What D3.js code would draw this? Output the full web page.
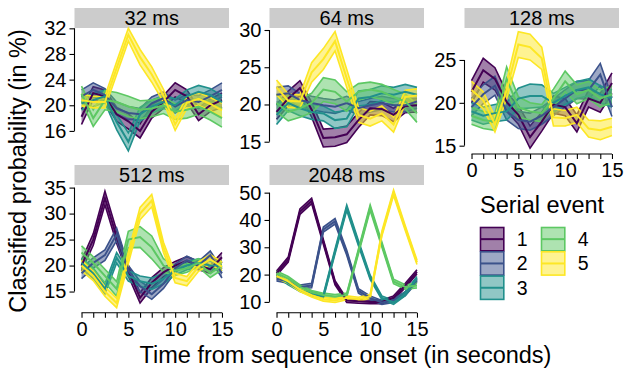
<!DOCTYPE html>
<html>
<head>
<meta charset="utf-8">
<script src="https://cdn.jsdelivr.net/npm/d3@7"></script>
<style>
  body { margin: 0; background: #fff; }
  text { font-family: "Liberation Sans", Arial, sans-serif; fill: #000; }
</style>
</head>
<body>
<svg id="chart" width="631" height="372"></svg>
<script>
// time points (seconds from sequence onset)
const times = [0, 1.25, 2.5, 3.75, 5, 6.25, 7.5, 8.75, 10, 11.25, 12.5, 13.75, 15];
const events = ['1', '2', '3', '4', '5'];
const colors = ['#440154', '#3B528B', '#21908C', '#5DC863', '#FDE725'];

// mean classified probability (in %) per serial event, one list per speed
const mean32 = [
  [18.2, 21.9, 21.4, 18.6, 17.5, 16.0, 19.0, 20.5, 22.4, 21.4, 18.6, 20.0, 20.8],
  [21.4, 22.4, 21.6, 19.5, 18.8, 18.6, 20.3, 21.1, 19.8, 20.8, 20.5, 21.4, 22.4],
  [20.3, 20.8, 21.4, 17.4, 14.3, 18.6, 19.8, 20.5, 20.0, 21.4, 22.1, 21.6, 20.5],
  [21.8, 18.0, 20.8, 20.5, 19.8, 19.3, 19.5, 20.0, 19.0, 19.3, 19.8, 19.0, 18.0],
  [20.8, 20.5, 20.5, 25.8, 31.0, 27.5, 24.8, 21.5, 17.0, 20.4, 21.0, 20.2, 19.2]
];
const se32 = [
  [1.2, 1.0, 1.0, 1.1, 1.2, 1.1, 1.0, 1.0, 1.1, 1.0, 1.0, 1.0, 1.1],
  [1.0, 1.1, 1.0, 1.0, 1.0, 0.9, 1.0, 1.0, 1.0, 0.9, 1.0, 1.0, 1.1],
  [1.0, 1.0, 1.0, 1.2, 1.4, 1.1, 1.0, 1.0, 1.0, 1.0, 1.0, 1.0, 1.0],
  [1.2, 1.3, 1.5, 1.5, 1.6, 1.4, 1.3, 1.3, 1.2, 1.3, 1.2, 1.3, 1.4],
  [0.9, 0.9, 0.9, 1.0, 1.0, 1.2, 1.2, 1.0, 0.9, 0.9, 1.0, 1.0, 1.1]
];

const mean64 = [
  [19.0, 20.8, 22.2, 19.3, 15.5, 15.6, 16.0, 17.9, 19.5, 19.4, 18.6, 19.8, 19.9],
  [21.3, 21.5, 20.6, 20.2, 19.9, 19.7, 20.2, 19.5, 19.9, 20.2, 19.9, 19.9, 20.4],
  [18.6, 20.2, 19.5, 19.0, 18.8, 17.9, 18.1, 20.8, 21.0, 21.5, 21.3, 21.7, 21.3],
  [20.2, 19.0, 19.5, 20.2, 22.0, 21.7, 20.4, 21.7, 22.0, 21.7, 21.0, 20.4, 18.8],
  [22.3, 20.5, 20.4, 24.3, 26.1, 28.5, 23.5, 18.6, 18.1, 18.8, 17.3, 21.0, 21.2]
];
const se64 = [
  [1.0, 1.0, 1.0, 1.0, 1.2, 1.2, 1.1, 1.0, 0.9, 0.9, 0.9, 0.9, 0.9],
  [1.0, 1.0, 0.9, 0.9, 0.9, 0.9, 0.9, 0.9, 0.9, 0.9, 0.9, 0.9, 0.9],
  [1.3, 1.0, 1.0, 1.0, 1.0, 1.1, 1.1, 1.0, 1.0, 1.0, 1.0, 1.0, 1.0],
  [1.2, 1.2, 1.2, 1.3, 1.6, 1.6, 1.3, 1.1, 1.0, 1.0, 1.0, 1.0, 1.2],
  [1.0, 0.9, 0.9, 1.3, 1.4, 1.3, 1.2, 1.0, 1.0, 1.0, 1.0, 0.9, 0.9]
];

const mean128 = [
  [21.3, 23.8, 22.8, 20.1, 18.6, 16.0, 17.8, 19.8, 19.5, 17.6, 20.5, 20.0, 22.3],
  [19.5, 21.0, 22.0, 19.0, 18.0, 17.8, 18.5, 19.5, 20.5, 21.5, 21.5, 23.3, 19.5],
  [19.0, 18.5, 18.8, 19.0, 20.5, 20.8, 20.8, 20.0, 20.8, 21.5, 21.8, 21.0, 20.5],
  [18.5, 18.0, 17.8, 22.8, 19.5, 19.0, 18.8, 20.5, 22.5, 21.0, 21.5, 20.5, 21.0],
  [21.5, 20.3, 17.5, 21.5, 26.8, 26.5, 25.2, 18.3, 18.2, 18.6, 17.0, 16.8, 17.2]
];
const se128 = [
  [1.3, 1.4, 1.3, 1.1, 1.1, 1.3, 1.1, 1.0, 1.0, 1.0, 1.0, 1.1, 1.2],
  [1.0, 1.1, 1.1, 1.0, 1.0, 1.0, 1.0, 1.0, 1.0, 1.0, 1.1, 1.3, 1.1],
  [1.0, 1.0, 1.0, 1.0, 1.2, 1.4, 1.3, 1.1, 1.0, 1.0, 1.0, 1.0, 1.0],
  [1.0, 1.0, 1.0, 1.4, 1.2, 1.0, 1.0, 1.1, 1.2, 1.1, 1.0, 1.0, 1.0],
  [1.0, 1.0, 0.9, 1.0, 1.5, 1.5, 1.3, 1.0, 0.9, 0.9, 1.0, 1.1, 1.0]
];

const mean512 = [
  [20.0, 25.0, 33.0, 25.5, 19.0, 13.8, 16.7, 18.7, 20.0, 20.9, 20.0, 19.3, 21.6],
  [18.5, 20.5, 22.0, 26.0, 19.0, 16.0, 14.5, 16.5, 19.5, 21.0, 20.0, 22.0, 18.5],
  [20.5, 18.5, 15.5, 21.5, 18.0, 17.0, 16.5, 17.5, 19.0, 20.0, 20.5, 20.0, 20.0],
  [22.5, 20.5, 18.0, 15.5, 25.0, 25.5, 23.5, 20.0, 19.0, 19.5, 20.5, 18.5, 20.0],
  [20.0, 18.0, 15.0, 12.8, 21.5, 30.0, 32.5, 23.5, 17.6, 17.0, 19.8, 21.2, 19.8]
];
const se512 = [
  [1.0, 1.1, 1.3, 1.2, 1.0, 1.0, 1.0, 0.9, 0.8, 0.8, 0.8, 0.8, 0.9],
  [1.0, 1.0, 1.0, 1.2, 1.0, 1.0, 1.0, 0.9, 0.8, 0.8, 0.8, 0.8, 0.9],
  [1.0, 1.0, 1.0, 1.0, 1.0, 1.0, 1.1, 1.0, 0.8, 0.8, 0.8, 0.8, 0.8],
  [1.3, 1.2, 1.3, 1.4, 1.6, 2.0, 2.2, 1.3, 0.9, 0.8, 0.8, 0.8, 0.8],
  [1.0, 0.9, 0.9, 0.9, 1.1, 1.2, 1.2, 1.0, 0.9, 0.9, 0.9, 0.9, 0.9]
];

const mean2048 = [
  [20.5, 25.5, 43.0, 47.0, 32.0, 17.0, 10.5, 10.2, 10.0, 10.0, 11.5, 16.0, 21.0],
  [18.5, 17.5, 15.5, 16.0, 36.5, 39.5, 28.0, 14.0, 11.5, 9.8, 10.5, 13.0, 18.0],
  [20.0, 17.0, 14.5, 13.0, 12.0, 28.5, 44.5, 31.5, 19.0, 11.5, 9.8, 13.0, 18.5],
  [20.5, 18.5, 15.5, 13.5, 12.5, 12.0, 12.5, 28.5, 44.5, 31.0, 17.5, 15.5, 16.0],
  [19.5, 17.5, 14.5, 12.5, 11.0, 10.5, 11.5, 11.0, 12.0, 35.0, 50.0, 37.0, 24.5]
];
const se2048 = [
  [0.8, 0.9, 1.0, 1.0, 0.9, 0.8, 0.7, 0.7, 0.7, 0.7, 0.7, 0.8, 0.8],
  [0.8, 0.7, 0.7, 0.8, 0.9, 1.0, 0.9, 0.8, 0.7, 0.7, 0.7, 0.7, 0.8],
  [0.8, 0.7, 0.7, 0.7, 0.7, 0.9, 1.0, 0.9, 0.8, 0.7, 0.7, 0.7, 0.8],
  [0.8, 0.8, 0.7, 0.7, 0.7, 0.7, 0.7, 0.9, 1.0, 0.9, 0.8, 0.8, 0.9],
  [0.8, 0.7, 0.7, 0.7, 0.7, 0.7, 0.7, 0.7, 0.7, 0.9, 1.0, 0.9, 0.8]
];

// visible y range of each panel and its labelled breaks
const limits32 = [12.4, 32.05], ticks32 = [16, 20, 24, 28, 32];
const limits64 = [13.35, 30.27], ticks64 = [15, 20, 25, 30];
const limits128 = [14.03, 28.73], ticks128 = [15, 20, 25];
const limits512 = [10.93, 35.5], ticks512 = [15, 20, 25, 30, 35];
const limits2048 = [6.05, 52.8], ticks2048 = [10, 20, 30, 40, 50];

const config = {
  colLeft: [74.5, 269.5, 464.5],
  panelWidth: 154.5,
  rowTop: [28, 185],
  rowBottom: [154, 312.7],
  stripHeight: 20,
  xDomain: [-0.75, 15.75],
  tickFont: 20
};

const panels = [
  {label: '32 ms', col: 0, row: 0, means: mean32, se: se32, limits: limits32, ticks: ticks32, xAxis: false},
  {label: '64 ms', col: 1, row: 0, means: mean64, se: se64, limits: limits64, ticks: ticks64, xAxis: false},
  {label: '128 ms', col: 2, row: 0, means: mean128, se: se128, limits: limits128, ticks: ticks128, xAxis: true},
  {label: '512 ms', col: 0, row: 1, means: mean512, se: se512, limits: limits512, ticks: ticks512, xAxis: true},
  {label: '2048 ms', col: 1, row: 1, means: mean2048, se: se2048, limits: limits2048, ticks: ticks2048, xAxis: true}
];

const svg = d3.select('#chart');

function drawStrip(p, left, top) {
  svg.append('rect')
    .attr('x', left)
    .attr('y', top - config.stripHeight)
    .attr('width', config.panelWidth)
    .attr('height', config.stripHeight)
    .attr('fill', '#cccccc');
  svg.append('text')
    .attr('x', left + config.panelWidth / 2)
    .attr('y', top - config.stripHeight / 2)
    .attr('dy', '0.36em')
    .attr('text-anchor', 'middle')
    .attr('font-size', 20)
    .text(p.label);
}

function drawSeries(p, x, y) {
  const g = svg.append('g');
  const rows = p.means.map((m, i) => m.map((v, j) => ({t: times[j], mean: v, lo: v - p.se[i][j], hi: v + p.se[i][j]})));
  const area = d3.area().x(d => x(d.t)).y0(d => y(d.lo)).y1(d => y(d.hi));
  const upper = d3.line().x(d => x(d.t)).y(d => y(d.hi));
  const lower = d3.line().x(d => x(d.t)).y(d => y(d.lo));
  const mid = d3.line().x(d => x(d.t)).y(d => y(d.mean));

  rows.forEach((r, i) => {
    g.append('path').attr('d', area(r)).attr('fill', colors[i]).attr('fill-opacity', 0.5);
    g.append('path').attr('d', upper(r)).attr('fill', 'none').attr('stroke', colors[i]).attr('stroke-width', 1.6);
    g.append('path').attr('d', lower(r)).attr('fill', 'none').attr('stroke', colors[i]).attr('stroke-width', 1.6);
  });
  rows.forEach((r, i) => {
    g.append('path').attr('d', mid(r)).attr('fill', 'none').attr('stroke', colors[i])
      .attr('stroke-width', 2).attr('stroke-linejoin', 'miter');
  });
}

function drawYAxis(p, left, y) {
  const axis = svg.append('g').attr('transform', `translate(${left},0)`)
    .call(d3.axisLeft(y).tickValues(p.ticks).tickSize(5).tickPadding(3));
  axis.select('.domain').remove();
  axis.selectAll('line').attr('stroke', '#000').attr('stroke-width', 1.1);
  axis.selectAll('text').attr('font-size', config.tickFont).attr('font-family', null);
  axis.append('line')
    .attr('x1', 0).attr('x2', 0)
    .attr('y1', y(d3.min(p.ticks))).attr('y2', y(d3.max(p.ticks)))
    .attr('stroke', '#000').attr('stroke-width', 1.1);
}

function drawXAxis(bottom, x) {
  const axis = svg.append('g').attr('transform', `translate(0,${bottom})`)
    .call(d3.axisBottom(x).tickValues(times).tickSize(5).tickPadding(4)
      .tickFormat(d => d % 5 === 0 ? d : ''));
  axis.select('.domain').remove();
  axis.selectAll('line').attr('stroke', '#000').attr('stroke-width', 1.1);
  axis.selectAll('text').attr('font-size', config.tickFont).attr('font-family', null);
  axis.append('line')
    .attr('x1', x(0)).attr('x2', x(15))
    .attr('y1', 0).attr('y2', 0)
    .attr('stroke', '#000').attr('stroke-width', 1.1);
}

function drawPanel(p) {
  const left = config.colLeft[p.col];
  const top = config.rowTop[p.row];
  const bottom = config.rowBottom[p.row];
  const x = d3.scaleLinear().domain(config.xDomain).range([left, left + config.panelWidth]);
  const y = d3.scaleLinear().domain(p.limits).range([bottom, top]);
  drawStrip(p, left, top);
  drawSeries(p, x, y);
  drawYAxis(p, left, y);
  if (p.xAxis) drawXAxis(bottom, x);
}

function drawTitles() {
  svg.append('text')
    .attr('x', 345.5).attr('y', 363)
    .attr('text-anchor', 'middle')
    .attr('font-size', 23.5)
    .text('Time from sequence onset (in seconds)');
  svg.append('text')
    .attr('transform', 'translate(26,171) rotate(-90)')
    .attr('text-anchor', 'middle')
    .attr('font-size', 23.5)
    .text('Classified probability (in %)');
}

function drawLegend() {
  const g = svg.append('g');
  g.append('text').attr('x', 480).attr('y', 212.5).attr('font-size', 23.5).text('Serial event');
  const key = 23.3, step = 24.3;
  events.forEach((e, i) => {
    const col = Math.floor(i / 3), row = i % 3;
    const kx = 480.5 + col * 61, ky = 227.5 + row * step;
    g.append('rect')
      .attr('x', kx).attr('y', ky).attr('width', key).attr('height', key)
      .attr('fill', colors[i]).attr('fill-opacity', 0.5)
      .attr('stroke', colors[i]).attr('stroke-width', 1.6);
    g.append('line')
      .attr('x1', kx).attr('x2', kx + key)
      .attr('y1', ky + key / 2).attr('y2', ky + key / 2)
      .attr('stroke', colors[i]).attr('stroke-width', 2);
    g.append('text')
      .attr('x', kx + key + 13).attr('y', ky + key / 2)
      .attr('dy', '0.36em')
      .attr('font-size', 19.5)
      .text(e);
  });
}

panels.forEach(drawPanel);
drawTitles();
drawLegend();
</script>
</body>
</html>
